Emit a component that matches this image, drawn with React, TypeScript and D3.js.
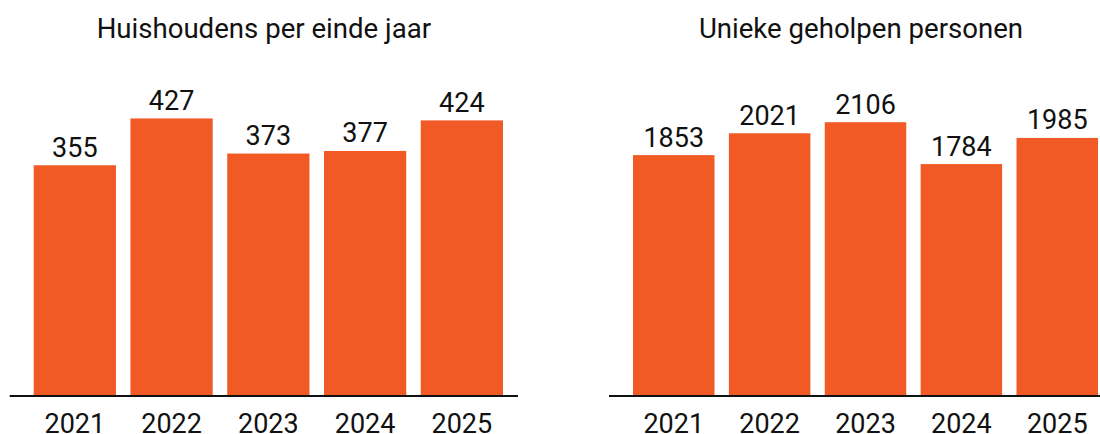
import React from "react";
import * as d3 from "d3";

const years = ["2021", "2022", "2023", "2024", "2025"];
const households = [355, 427, 373, 377, 424];
const persons = [1853, 2021, 2106, 1784, 1985];
const titles = ["Huishoudens per einde jaar", "Unieke geholpen personen"];
const domainMax = [500, 2500];

const W = 1100;
const H = 434;
const BASE = 396;
const TOP = 71;
const ORANGE = "#F15A24";
const FONT = "Roboto, 'Noto Sans', sans-serif";

type PanelProps = {
  title: string;
  values: number[];
  max: number;
  x0: number;
  x1: number;
};

function Panel({ title, values, max, x0, x1 }: PanelProps) {
  const x = d3.scaleBand<string>().domain(years).range([x0, x1]).paddingInner(0.15).paddingOuter(0);
  const y = d3.scaleLinear().domain([0, max]).range([BASE, TOP]);
  const axisStart = x0 - 24;
  const axisEnd = x1 + 15;
  const cx = (axisStart + axisEnd) / 2;
  return (
    <g>
      <text x={cx} y={38} textAnchor="middle" fontFamily={FONT} fontSize={27.6} fill="#111">
        {title}
      </text>
      {values.map((v, i) => (
        <g key={years[i]}>
          <rect x={x(years[i])} y={y(v)} width={x.bandwidth()} height={BASE - y(v)} fill={ORANGE} />
          <text
            x={(x(years[i]) as number) + x.bandwidth() / 2}
            y={y(v) - 8.5}
            textAnchor="middle"
            fontFamily={FONT}
            fontSize={27}
            fill="#111"
          >
            {v}
          </text>
          <text
            x={(x(years[i]) as number) + x.bandwidth() / 2}
            y={432.5}
            textAnchor="middle"
            fontFamily={FONT}
            fontSize={27}
            fill="#111"
          >
            {years[i]}
          </text>
        </g>
      ))}
      <line x1={axisStart} x2={axisEnd} y1={BASE} y2={BASE} stroke="#111" strokeWidth={2} />
    </g>
  );
}

export default function App() {
  return (
    <svg
      width={W}
      height={H}
      viewBox={`0 0 ${W} ${H}`}
      style={{ position: "absolute", left: 0, top: 0, background: "#fff" }}
    >
      <Panel title={titles[0]} values={households} max={domainMax[0]} x0={33.7} x1={503} />
      <Panel title={titles[1]} values={persons} max={domainMax[1]} x0={633} x1={1098} />
    </svg>
  );
}
